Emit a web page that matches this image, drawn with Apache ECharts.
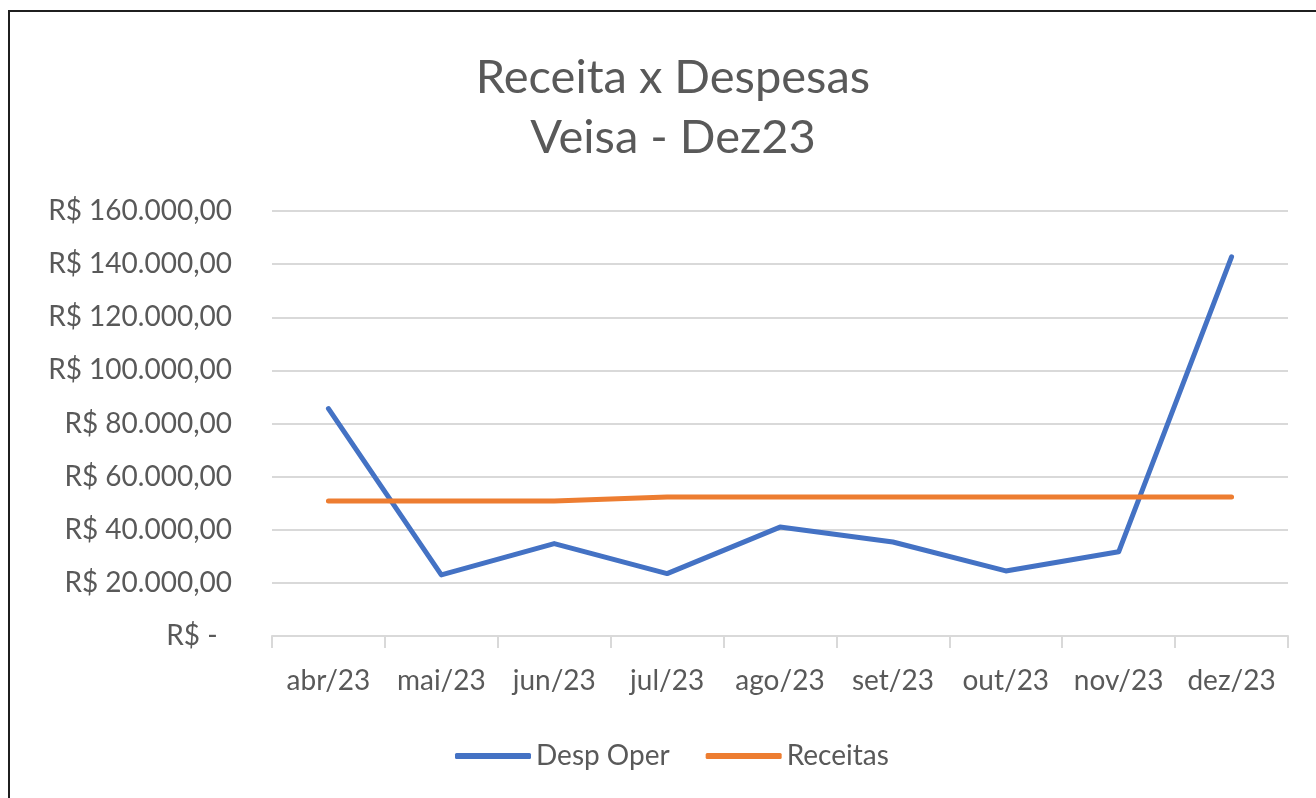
<!DOCTYPE html>
<html>
<head>
<meta charset="utf-8">
<script src="https://cdn.jsdelivr.net/npm/echarts@6/dist/echarts.min.js"></script>
<style>
  html, body { margin: 0; padding: 0; background: #fff; overflow: hidden; }
  .frame {
    position: absolute; left: 8px; top: 10px;
    width: 1400px; height: 900px;
    border: 2px solid #1f1f1f;
  }
  #chart { position: absolute; left: 0; top: 0; width: 1316px; height: 798px; }
</style>
</head>
<body>
<div class="frame"></div>
<div id="chart"></div>
<script>
const months = ['abr/23', 'mai/23', 'jun/23', 'jul/23', 'ago/23', 'set/23', 'out/23', 'nov/23', 'dez/23'];
const despOper = [85600, 23000, 34800, 23500, 41000, 35400, 24500, 31700, 142700];
const receitas = [50850, 50850, 50850, 52350, 52350, 52350, 52350, 52350, 52350];
const yTicks = { min: 0, max: 160000, interval: 20000 };

const chart = echarts.init(document.getElementById('chart'));

// formato contábil do Excel: zero vira "R$ -"
function brl(v) {
  if (v === 0) return 'R$ -  ';
  const s = v.toLocaleString('pt-BR', { minimumFractionDigits: 2, maximumFractionDigits: 2 });
  return 'R$ ' + s;
}

const font = 'Lato, "Open Sans", sans-serif';

const option = {
  animation: false,
  backgroundColor: 'transparent',
  title: {
    text: 'Receita x Despesas\nVeisa - Dez23',
    left: 668,
    top: 43,
    textAlign: 'center',
    textStyle: {
      fontFamily: font,
      fontSize: 47,
      fontWeight: 'normal',
      color: '#595959',
      lineHeight: 60
    }
  },
  legend: {
    data: ['Desp Oper', 'Receitas'],
    left: 450,
    top: 737,
    itemWidth: 76,
    itemHeight: 6,
    itemGap: 36,
    icon: 'roundRect',
    textStyle: { fontFamily: font, fontSize: 28, color: '#595959' }
  },
  grid: { left: 272, right: 28, top: 211, bottom: 162 },
  xAxis: {
    type: 'category',
    data: months,
    boundaryGap: true,
    axisLine: { lineStyle: { color: '#d9d9d9', width: 2 } },
    axisTick: { show: true, interval: 0, length: 12, lineStyle: { color: '#d9d9d9', width: 2 } },
    axisLabel: { interval: 0, hideOverlap: false, fontFamily: font, fontSize: 28, color: '#595959', margin: 31 }
  },
  yAxis: {
    type: 'value',
    min: yTicks.min,
    max: yTicks.max,
    interval: yTicks.interval,
    axisLine: { show: false },
    axisTick: { show: false },
    splitLine: { lineStyle: { color: '#d9d9d9', width: 2 } },
    axisLabel: { fontFamily: font, fontSize: 28, color: '#595959', margin: 40, formatter: brl }
  },
  series: [
    {
      name: 'Desp Oper',
      type: 'line',
      data: despOper,
      symbol: 'none',
      color: '#4472C4',
      lineStyle: { width: 5, color: '#4472C4', cap: 'round', join: 'round' }
    },
    {
      name: 'Receitas',
      type: 'line',
      data: receitas,
      symbol: 'none',
      color: '#ED7D31',
      lineStyle: { width: 5, color: '#ED7D31', cap: 'round', join: 'round' }
    }
  ]
};

chart.setOption(option);
</script>
</body>
</html>
